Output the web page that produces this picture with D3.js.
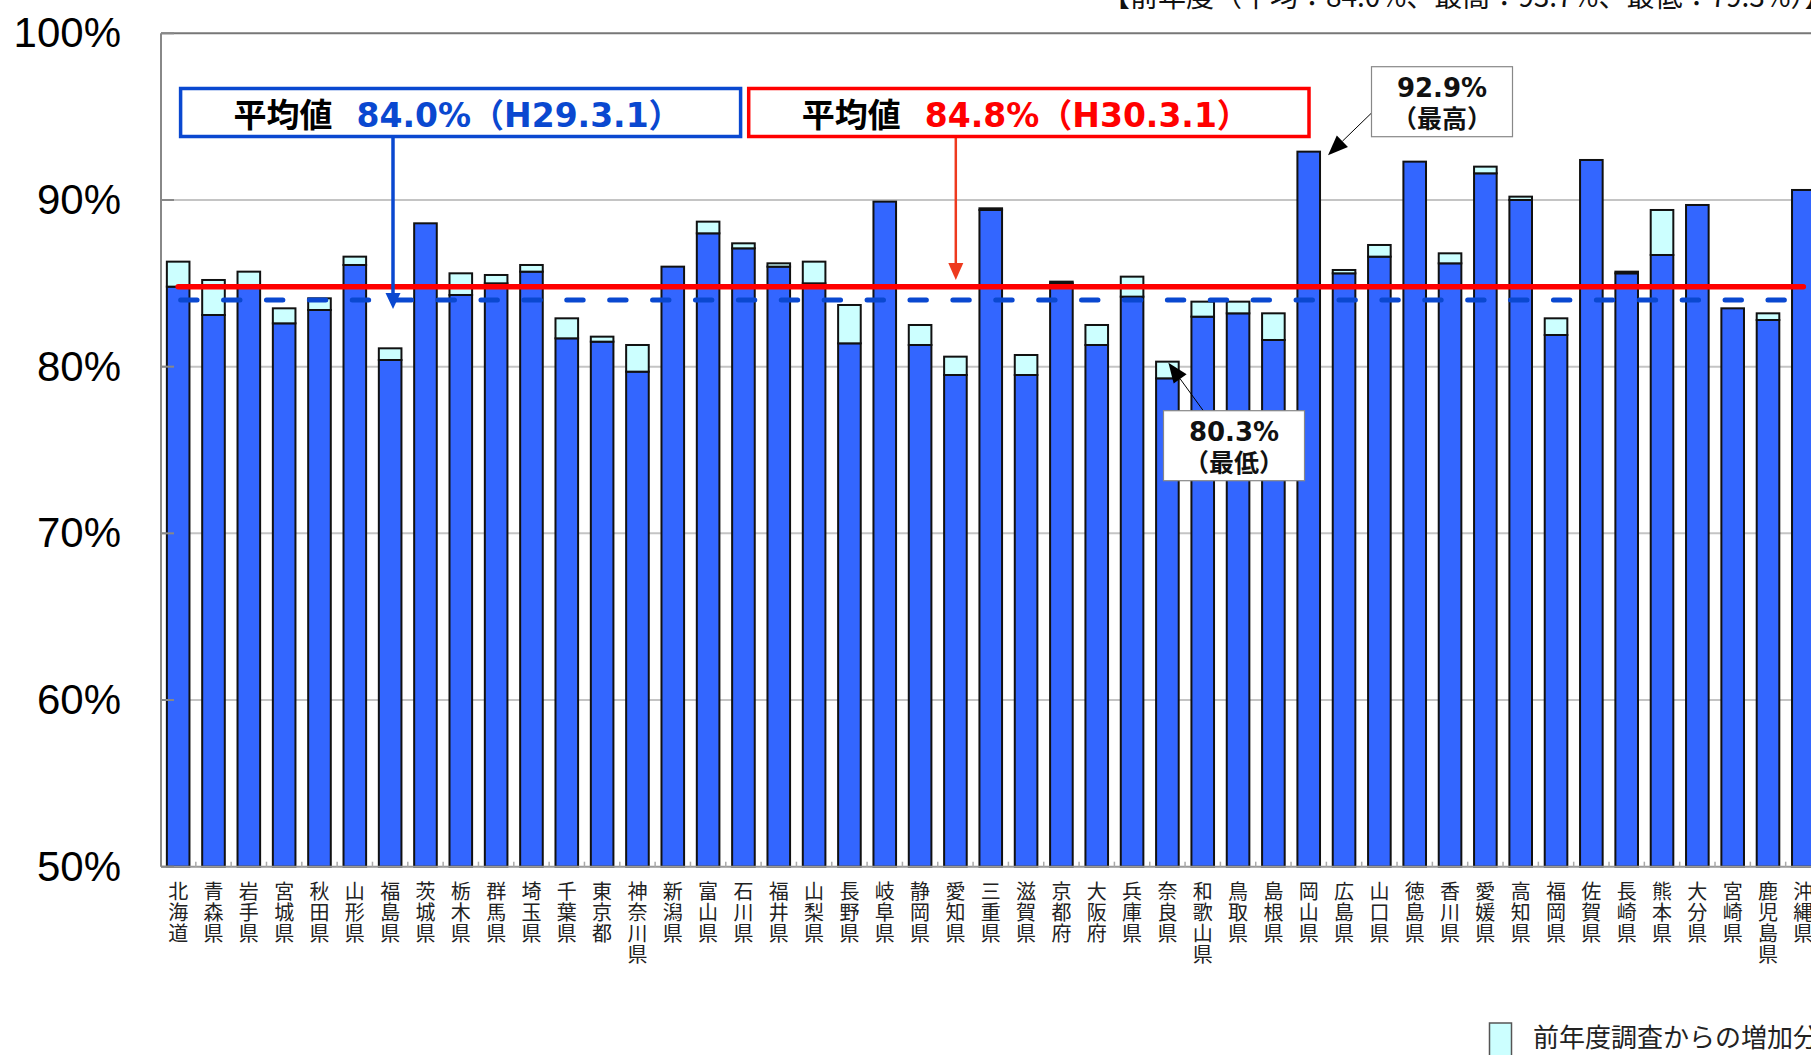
<!DOCTYPE html>
<html>
<head>
<meta charset="utf-8">
<script src="https://cdn.jsdelivr.net/npm/d3@7"></script>
<style>
body{margin:0;background:#fff;overflow:hidden;}
</style>
</head>
<body>
<script>
var width = 1811;
var height = 1055;

// data
var prefs = ["北海道","青森県","岩手県","宮城県","秋田県","山形県","福島県","茨城県","栃木県","群馬県",
  "埼玉県","千葉県","東京都","神奈川県","新潟県","富山県","石川県","福井県","山梨県","長野県",
  "岐阜県","静岡県","愛知県","三重県","滋賀県","京都府","大阪府","兵庫県","奈良県","和歌山県",
  "鳥取県","島根県","岡山県","広島県","山口県","徳島県","香川県","愛媛県","高知県","福岡県",
  "佐賀県","長崎県","熊本県","大分県","宮崎県","鹿児島県","沖縄県"];
var rateH30 = [86.3,85.2,85.7,83.5,84.1,86.6,81.1,88.6,85.6,85.5,
  86.1,82.9,81.8,81.3,86.0,88.7,87.4,86.2,86.3,83.7,
  89.9,82.5,80.6,89.5,80.7,85.1,82.5,85.4,80.3,83.9,
  83.9,83.2,92.9,85.8,87.3,92.3,86.8,92.0,90.2,82.9,
  92.4,85.7,89.4,89.7,83.5,83.2,90.6];
var increase = [1.5,2.1,0.8,0.9,0.7,0.5,0.7,0,1.3,0.5,
  0.4,1.2,0.3,1.6,0,0.7,0.3,0.2,1.3,2.3,
  0,1.2,1.1,0.1,1.2,0.1,1.2,1.2,1.0,0.9,
  0.7,1.6,0,0.2,0.7,0,0.6,0.4,0.2,1.0,
  0,0.1,2.7,0,0,0.4,0];
var yTicks = [50,60,70,80,90,100];
var avgH29 = 84.0;
var avgH30 = 84.8;
var topNote = "【前年度（平均：84.0%、最高：93.7%、最低：79.3%）】";
var legendText = "前年度調査からの増加分";

var svg = d3.select("body")
.append("svg")
.attr("width",width)
.attr("height",height);

var y = d3.scaleLinear()
.domain([50,100])
.range([866.7,33.3]);

var x = d3.scaleBand()
.domain(prefs)
.range([160.5,1821])
.paddingInner(0.36)
.paddingOuter(0.18);

var cjk = "'Noto Sans CJK JP', sans-serif";
var boldFont = "'DejaVu Sans', 'Noto Sans CJK JP', sans-serif";

// top note (cut off by the page edge)
svg.append("text")
.attr("x",1102)
.attr("y",7)
.attr("font-family",cjk)
.attr("font-size","28px")
.attr("fill","#111")
.text(topNote);

// gridlines
svg.selectAll(".grid")
.data(yTicks.slice(1,5))
.enter()
.append("line")
.attr("x1",161)
.attr("x2",width)
.attr("y1",function(d){ return y(d); })
.attr("y2",function(d){ return y(d); })
.attr("stroke","#c4c4c4")
.attr("stroke-width",2);

// y labels
svg.selectAll(".ylab")
.data(yTicks)
.enter()
.append("text")
.attr("x",121)
.attr("y",function(d){ return y(d); })
.attr("dy","0.33em")
.attr("text-anchor","end")
.attr("font-family","'Liberation Sans', Arial, sans-serif")
.attr("font-size","42px")
.attr("fill","#000")
.text(function(d){ return d + "%"; });

// bars: previous year part
svg.selectAll(".base")
.data(prefs)
.enter()
.append("rect")
.attr("x",function(d){ return x(d); })
.attr("y",function(d,i){ return y(rateH30[i] - increase[i]); })
.attr("width",x.bandwidth())
.attr("height",function(d,i){ return y(50) - y(rateH30[i] - increase[i]); })
.attr("fill","#3366ff")
.attr("stroke","#111")
.attr("stroke-width",2);

// bars: increase part
svg.selectAll(".inc")
.data(prefs.filter(function(d,i){ return increase[i] > 0; }))
.enter()
.append("rect")
.attr("x",function(d){ return x(d); })
.attr("y",function(d){ var i = prefs.indexOf(d); return y(rateH30[i]); })
.attr("width",x.bandwidth())
.attr("height",function(d){ var i = prefs.indexOf(d); return y(rateH30[i] - increase[i]) - y(rateH30[i]); })
.attr("fill","#ccffff")
.attr("stroke","#111")
.attr("stroke-width",2);

// axes frame
svg.append("line")
.attr("x1",161).attr("x2",width)
.attr("y1",y(100)).attr("y2",y(100))
.attr("stroke","#777").attr("stroke-width",2);
svg.append("line")
.attr("x1",161).attr("x2",width)
.attr("y1",y(50)).attr("y2",y(50))
.attr("stroke","#999").attr("stroke-width",2);
svg.append("line")
.attr("x1",161).attr("x2",161)
.attr("y1",y(100)).attr("y2",y(50))
.attr("stroke","#888").attr("stroke-width",2);

svg.selectAll(".ytick")
.data(yTicks)
.enter()
.append("line")
.attr("x1",161).attr("x2",174)
.attr("y1",function(d){ return y(d); })
.attr("y2",function(d){ return y(d); })
.attr("stroke","#888").attr("stroke-width",2);

svg.selectAll(".xtick")
.data(prefs.slice(1))
.enter()
.append("line")
.attr("x1",function(d){ return x(d) - x.step()*0.18; })
.attr("x2",function(d){ return x(d) - x.step()*0.18; })
.attr("y1",y(50)).attr("y2",y(50) - 5)
.attr("stroke","#aaa").attr("stroke-width",1.5);

// category labels, one character per row
svg.selectAll(".cat")
.data(prefs)
.enter()
.append("text")
.attr("text-anchor","middle")
.attr("font-family",cjk)
.attr("font-size","20px")
.attr("fill","#222")
.each(function(name){
  var cx = x(name) + x.bandwidth()/2;
  var t = d3.select(this);
  name.split("").forEach(function(ch,j){
    t.append("tspan")
    .attr("x",cx)
    .attr("y",899 + j*21)
    .text(ch);
  });
});

// average lines
var xFirst = x(prefs[0]) + x.bandwidth()/2;
var xLast = x(prefs[prefs.length-1]) + x.bandwidth()/2;

svg.append("line")
.attr("x1",xFirst).attr("x2",xLast)
.attr("y1",y(avgH30)).attr("y2",y(avgH30))
.attr("stroke","#ff0000")
.attr("stroke-width",5.5)
.attr("stroke-linecap","round");

svg.append("line")
.attr("x1",xFirst + 2.5).attr("x2",xLast)
.attr("y1",y(avgH29)).attr("y2",y(avgH29))
.attr("stroke","#0a48d0")
.attr("stroke-width",5)
.attr("stroke-linecap","round")
.attr("stroke-dasharray","16.4 26.5");

// arrow helper
function arrow(x1,y1,x2,y2,color,lw,headLen,headHalf){
  var dx = x2 - x1, dy = y2 - y1;
  var len = Math.sqrt(dx*dx + dy*dy);
  var ux = dx/len, uy = dy/len;
  var bx = x2 - ux*headLen, by = y2 - uy*headLen;
  svg.append("line")
  .attr("x1",x1).attr("y1",y1)
  .attr("x2",bx).attr("y2",by)
  .attr("stroke",color).attr("stroke-width",lw);
  svg.append("path")
  .attr("d","M" + x2 + "," + y2 +
    "L" + (bx - uy*headHalf) + "," + (by + ux*headHalf) +
    "L" + (bx + uy*headHalf) + "," + (by - ux*headHalf) + "Z")
  .attr("fill",color);
}

// average boxes
function avgBox(x0,x1,color,value,label){
  svg.append("rect")
  .attr("x",x0).attr("y",88.5)
  .attr("width",x1 - x0).attr("height",48)
  .attr("fill","#fff")
  .attr("stroke",color)
  .attr("stroke-width",3.5);
  var t = svg.append("text")
  .attr("x",(x0 + x1)/2 - 3)
  .attr("y",126.5)
  .attr("text-anchor","middle")
  .attr("font-family",boldFont)
  .attr("font-weight","bold")
  .attr("font-size","33px");
  t.append("tspan").attr("fill","#000").attr("font-family",cjk).text("平均値");
  t.append("tspan").attr("fill",color).attr("dx",24).text(value.toFixed(1) + "%");
  t.append("tspan").attr("fill",color).attr("font-family",cjk).text("（");
  t.append("tspan").attr("fill",color).text(label);
  t.append("tspan").attr("fill",color).attr("font-family",cjk).text("）");
}

arrow(393,138,393,309,"#0a48d0",3.5,16,7.5);
arrow(955.8,138,955.8,280,"#ee3a1e",2.5,17,7.5);
avgBox(180.6,740.6,"#0a48d0",avgH29,"H29.3.1");
avgBox(748.7,1309,"#ff0000",avgH30,"H30.3.1");

// max / min callouts
var maxVal = d3.max(rateH30);
var minVal = d3.min(rateH30);
var maxName = prefs[rateH30.indexOf(maxVal)];
var minName = prefs[rateH30.indexOf(minVal)];

arrow(1371.5,113,x(maxName) + x.bandwidth() + 8,y(maxVal) + 3.5,"#000",1,20,8);
arrow(1203.5,411,x(minName) + x.bandwidth()/2 + 1,y(minVal) + 1,"#000",1,20,8);

function callout(x0,y0,value,label){
  svg.append("rect")
  .attr("x",x0).attr("y",y0)
  .attr("width",141).attr("height",70)
  .attr("fill","#fff")
  .attr("stroke","#888")
  .attr("stroke-width",1.2);
  svg.append("text")
  .attr("x",x0 + 70.5).attr("y",y0 + 30)
  .attr("text-anchor","middle")
  .attr("font-family",boldFont)
  .attr("font-weight","bold")
  .attr("font-size","26px")
  .attr("fill","#111")
  .text(value.toFixed(1) + "%");
  svg.append("text")
  .attr("x",x0 + 70.5).attr("y",y0 + 61)
  .attr("text-anchor","middle")
  .attr("font-family",cjk)
  .attr("font-weight","bold")
  .attr("font-size","25px")
  .attr("fill","#111")
  .text("（" + label + "）");
}

callout(1371.5,66.7,maxVal,"最高");
callout(1163.5,410.7,minVal,"最低");

// legend
svg.append("rect")
.attr("x",1489.5).attr("y",1023)
.attr("width",22).attr("height",45)
.attr("fill","#ccffff")
.attr("stroke","#555")
.attr("stroke-width",1.5);
svg.append("text")
.attr("x",1533).attr("y",1047)
.attr("font-family",cjk)
.attr("font-size","26px")
.attr("fill","#222")
.text(legendText);
</script>
</body>
</html>
